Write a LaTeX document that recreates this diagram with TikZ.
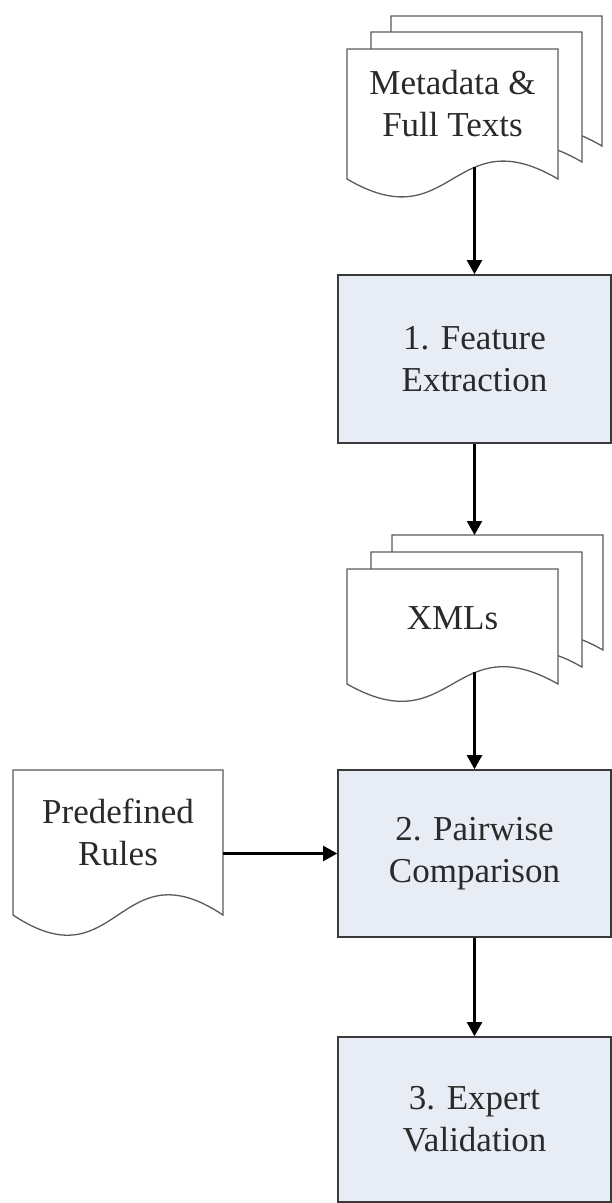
\documentclass[tikz,border=0pt]{standalone}
\usepackage{fontspec}
\setmainfont{Liberation Serif}
\usetikzlibrary{arrows.meta}
\definecolor{boxfill}{HTML}{E8ECF5}
\definecolor{boxline}{HTML}{3A3A3A}
\definecolor{docline}{HTML}{5A5A5A}
\definecolor{txt}{HTML}{2A2A2A}
\tikzset{
  procbox/.style={draw=boxline, line width=1.6pt, fill=boxfill, minimum width=273pt,
    inner sep=0pt, align=center, font=\fontsize{35}{42}\selectfont, text=txt},
  doctext/.style={align=center, inner sep=0pt, font=\fontsize{35}{42}\selectfont, text=txt},
  docsheet/.style={draw=docline, line width=1.3pt, fill=white},
  flow/.style={line width=2.2pt, -{Triangle[length=14pt,width=15pt]}}
}
\newcommand\docshape[5]{% x, top, width, baseline, amplitude
  \draw[docsheet] (#1,#4) -- (#1,#2) -- ({#1+#3},#2) -- ({#1+#3},#4)
    .. controls ({#1+#3/2},{#4-#5}) and ({#1+#3/2},{#4+#5}) .. (#1,#4) -- cycle;}
\begin{document}
\begin{tikzpicture}[x=1pt,y=-1pt]
\useasboundingbox (0,0) rectangle (612,1203);
% top stack
\docshape{391}{16}{211}{146}{62}
\docshape{371}{32}{211}{162}{62}
\docshape{347}{49}{211}{179}{62}
\node[doctext] (meta) at (452.5,104) {Metadata \&\\Full Texts};
\coordinate (metaout) at (474.5,167);
% box 1
\node[procbox, minimum height=168pt] (box1) at (474.5,359) {1. Feature\\Extraction};
% XMLs stack
\docshape{392}{535}{211}{650}{60}
\docshape{371}{552}{211}{667}{60}
\docshape{347}{569}{211}{684}{60}
\node[doctext] (xmls) at (452.5,618) {XMLs};
\coordinate (xmlin) at (474.5,535);
\coordinate (xmlout) at (474.5,672);
% predefined rules
\docshape{13}{770}{210}{915}{70}
\node[doctext] (rules) at (118,832) {Predefined\\Rules};
\coordinate (rulesout) at (223,853.5);
% box 2, box 3
\node[procbox, minimum height=167pt] (box2) at (474.5,853.5) {2. Pairwise\\Comparison};
\node[procbox, minimum height=165pt] (box3) at (474.5,1119.5) {3. Expert\\Validation};
% connectors
\draw[flow] (metaout) -- (box1.north);
\draw[flow] (box1.south) -- (xmlin);
\draw[flow] (xmlout) -- (box2.north);
\draw[flow] (rulesout) -- (box2.west);
\draw[flow] (box2.south) -- (box3.north);
\end{tikzpicture}
\end{document}
